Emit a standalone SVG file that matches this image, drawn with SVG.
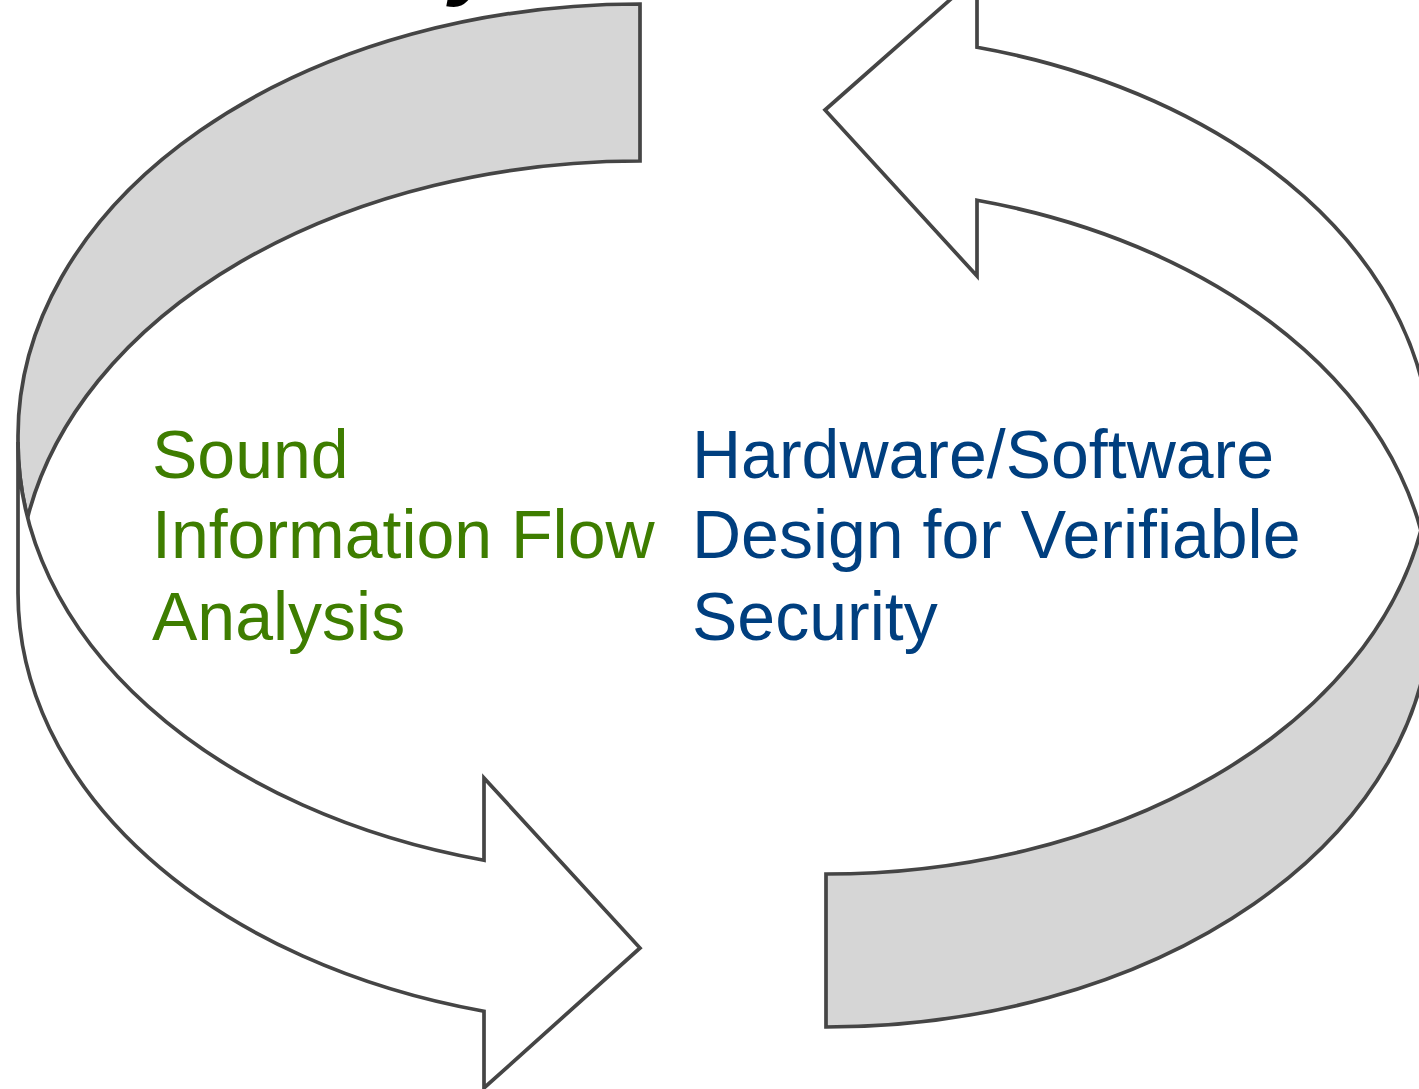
<svg xmlns="http://www.w3.org/2000/svg" width="1419" height="1089" viewBox="0 0 1419 1089">
  <style>
    .band { stroke: #454545; stroke-width: 3.7; stroke-linejoin: miter; }
    .back { fill: #d6d6d6; }
    .front { fill: #ffffff; }
    .lbl { font-family: "Liberation Sans", Arial, Helvetica, sans-serif; font-size: 68px; }
    .green { fill: #3e7d00; }
    .blue { fill: #003f7f; }
    .title { font-family: "Liberation Sans", Arial, sans-serif; font-size: 90px; font-weight: bold; font-style: italic; fill: #000; }
  </style>

  <rect width="1419" height="1089" fill="#ffffff"/>

  <!-- tail of the heading line that sits above the drawing -->
  <text class="title" x="450" y="-12">y</text>

  <!-- two curved ribbon arrows forming a cycle -->
  <g id="connectors">
    <g id="arrow-left">
      <!-- shaded back face: from top right, round the left side to the twist -->
      <path class="band back" d="M640,4 A622,432 0 0 0 18,436 L18,442 A622,432 0 0 0 27.6,517.5 A622,432 0 0 1 640,161 Z"/>
      <!-- front face with head pointing right -->
      <path class="band front" d="M18,442 A622,432 0 0 0 484,860.2 L484,778 L640,948 L484,1088 L484,1011.2 A622,432 0 0 1 18,593 Z"/>
    </g>
    <g id="arrow-right">
      <!-- shaded back face: from bottom left, round the right side to the twist -->
      <path class="band back" d="M826,874 L826,1027 A605,420 0 0 0 1431,607 A605,420 0 0 0 1420.9,530.5 A605,420 0 0 1 826,874 Z"/>
      <!-- front face with head pointing left -->
      <path class="band front" d="M1431,607 A605,420 0 0 0 977,200.3 L977,276 L825,110 L977,-24 L977,47.3 A605,420 0 0 1 1431,454 Z"/>
    </g>
  </g>

  <g id="node-information-flow">
    <text class="lbl green" x="152" y="478">Sound</text>
    <text class="lbl green" x="152" y="558">Information Flow</text>
    <text class="lbl green" x="152" y="640">Analysis</text>
  </g>

  <g id="node-hw-sw-design">
    <text class="lbl blue" x="692" y="478">Hardware/Software</text>
    <text class="lbl blue" x="692" y="558">Design for Verifiable</text>
    <text class="lbl blue" x="692" y="640">Security</text>
  </g>
</svg>
